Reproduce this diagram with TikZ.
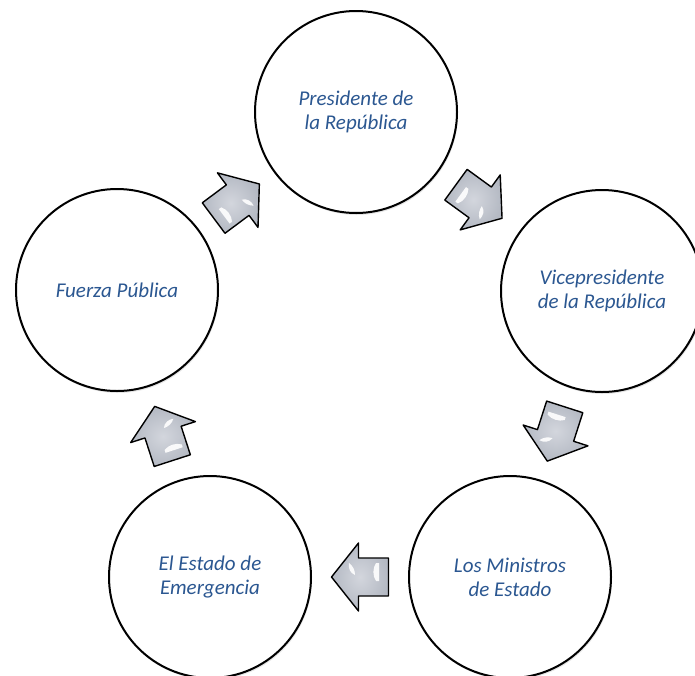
\documentclass[tikz,border=0pt]{standalone}
\usepackage{fontspec}
\setmainfont{Carlito}
\usetikzlibrary{calc,shadows}
\definecolor{labelblue}{HTML}{2B5791}
\definecolor{arrowlight}{HTML}{D3D6DD}
\definecolor{arrowdark}{HTML}{B4B9C3}
\tikzset{
  stage/.style={circle, draw=black, line width=2pt, fill=white,
    minimum size=202pt, inner sep=0pt, align=center,
    font=\fontsize{21}{24}\selectfont\itshape, text=labelblue,
    drop shadow={opacity=0.2, shadow xshift=1pt, shadow yshift=-2pt}},
  blockarrow/.style={draw=black, line width=1.4pt, line join=round,
    inner color=arrowlight, outer color=arrowdark},
  gloss/.style={fill=white, fill opacity=0.9}
}
% block arrow halfway between two stages, pointing from #1 to #2
\newcommand\flowarrow[2]{%
  \pgfmathanglebetweenpoints{\pgfpointanchor{#1}{center}}{\pgfpointanchor{#2}{center}}%
  \edef\flowang{\pgfmathresult}%
  \begin{scope}[shift={($(#1)!0.5!(#2)$)}, rotate=\flowang]
    \draw[blockarrow] (-28.5,-19) -- (1.5,-19) -- (1.5,-34) -- (28.5,0)
      -- (1.5,34) -- (1.5,19) -- (-28.5,19) -- cycle;
    \fill[gloss] (5,2) .. controls (10,4) and (12,9) .. (11,14)
      .. controls (7,11) and (5,7) .. cycle;
    \fill[gloss] (-19,-4) -- (-19,14) -- (-16,14)
      .. controls (-12.5,9) and (-12.5,1) .. (-16,-4) -- cycle;
  \end{scope}}
\begin{document}
\begin{tikzpicture}[x=1pt, y=-1pt]
  \useasboundingbox (0,0) rectangle (695,675);
  \clip (0,0) rectangle (695,675);
  \node[stage] (pres) at (356,112) {Presidente de\\la República};
  \node[stage] (vice) at (602,291) {Vicepresidente\\de la República};
  \node[stage] (mins) at (510,577) {Los Ministros\\de Estado};
  \node[stage] (emer) at (210,577) {El Estado de\\Emergencia};
  \node[stage] (fuer) at (117,290) {Fuerza Pública};
  \flowarrow{fuer}{pres}
  \flowarrow{pres}{vice}
  \flowarrow{vice}{mins}
  \flowarrow{mins}{emer}
  \flowarrow{emer}{fuer}
\end{tikzpicture}
\end{document}
